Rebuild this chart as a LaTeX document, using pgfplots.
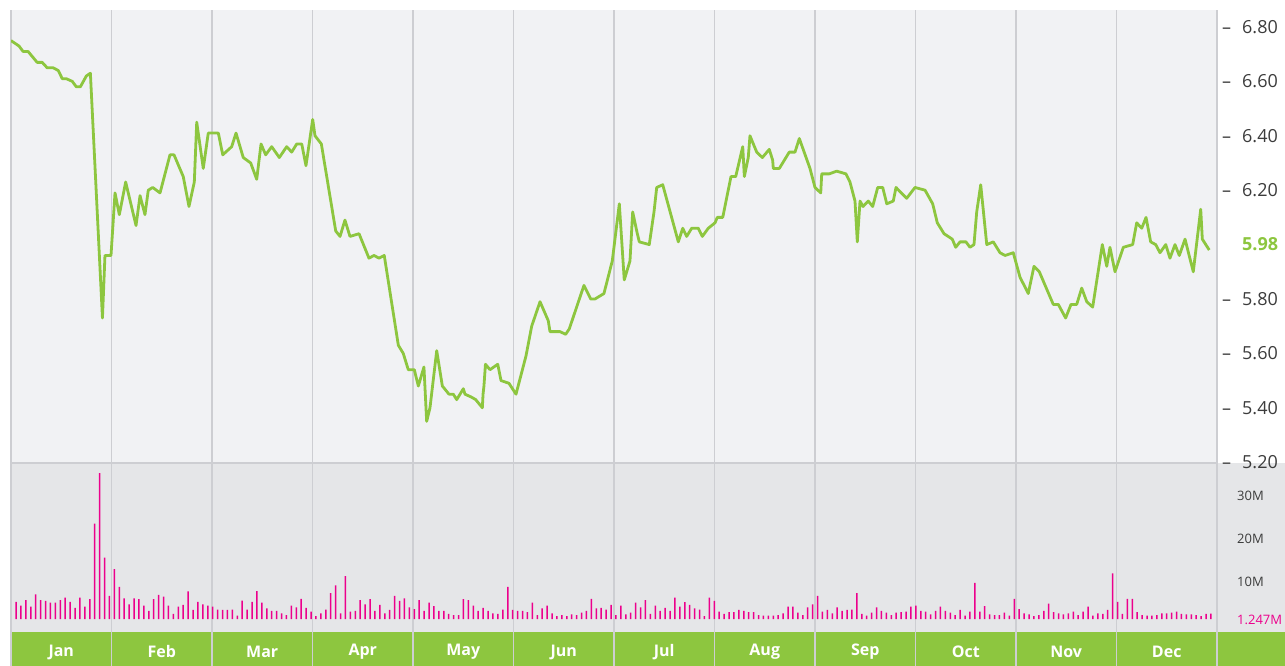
\documentclass[border=0pt]{standalone}
\usepackage{pgfplots}
\pgfplotsset{compat=1.18}
\usepackage{pgfplotstable}
\usepackage{fontspec}
\setmainfont{Open Sans}
\definecolor{lgreen}{HTML}{8DC63F}
\definecolor{mag}{HTML}{EC008C}
\definecolor{bgtop}{HTML}{F1F2F4}
\definecolor{bgvol}{HTML}{E5E6E8}
\definecolor{gridc}{HTML}{CDCED2}
\definecolor{labc}{HTML}{3C3C3C}

\pgfplotstableread[row sep=\\]{
v\\
4.0\\3.1\\4.4\\2.9\\5.7\\4.4\\4.2\\3.8\\3.8\\4.4\\
5.0\\4.0\\2.6\\5.0\\2.9\\4.6\\22.2\\33.9\\14.3\\5.4\\
11.6\\7.5\\4.8\\3.4\\4.8\\4.6\\3.1\\1.9\\4.6\\5.6\\
5.2\\3.1\\1.2\\2.9\\3.3\\6.4\\2.1\\4.0\\3.4\\3.1\\
2.9\\2.2\\2.1\\2.1\\2.2\\0.8\\4.3\\2.2\\4.0\\6.5\\
3.8\\2.5\\1.9\\1.9\\1.3\\0.9\\3.1\\2.7\\4.7\\2.6\\
1.7\\0.7\\1.3\\2.2\\6.0\\7.8\\1.3\\10.0\\1.7\\1.9\\
4.4\\3.4\\4.6\\1.9\\3.3\\1.3\\2.1\\5.4\\4.2\\4.8\\
2.7\\2.3\\4.4\\1.9\\3.8\\
3.0\\1.9\\1.9\\1.2\\0.9\\0.9\\4.6\\4.4\\3.1\\1.9\\
2.6\\1.9\\1.3\\1.2\\2.2\\7.5\\2.1\\1.9\\1.9\\1.6\\
3.8\\0.9\\2.5\\3.1\\1.3\\0.7\\0.9\\0.7\\1.1\\0.9\\
1.5\\1.9\\4.7\\2.5\\2.6\\2.2\\3.3\\0.9\\3.1\\1.1\\
1.5\\3.8\\2.7\\4.4\\1.2\\3.1\\1.9\\2.6\\1.9\\5.0\\
2.9\\3.9\\3.3\\2.5\\2.2\\0.7\\5.0\\4.2\\1.7\\1.2\\
1.6\\1.6\\2.1\\1.9\\1.6\\1.6\\0.9\\0.8\\0.8\\0.8\\
0.9\\1.3\\2.9\\2.9\\1.5\\0.9\\2.7\\3.4\\5.4\\1.7\\
2.1\\1.3\\2.7\\1.9\\2.1\\
2.2\\6.0\\1.2\\0.8\\1.5\\2.7\\1.9\\1.5\\0.9\\1.5\\
1.6\\1.7\\2.9\\3.1\\1.9\\1.7\\1.1\\1.9\\2.9\\1.9\\
1.5\\0.9\\2.1\\0.8\\1.7\\8.4\\1.7\\3.0\\1.1\\0.9\\
0.9\\1.5\\0.8\\4.7\\2.3\\1.3\\1.1\\0.7\\0.9\\1.9\\
3.6\\1.6\\1.3\\1.1\\1.3\\1.7\\0.9\\1.7\\2.9\\0.8\\
1.3\\1.2\\2.1\\10.6\\4.0\\1.2\\4.7\\4.7\\1.6\\0.9\\
0.8\\0.8\\0.9\\1.3\\1.3\\1.5\\1.7\\1.2\\1.1\\1.1\\
0.9\\0.7\\1.2\\1.247\\
}\voldata

\begin{document}
\begin{tikzpicture}[x=1pt,y=1pt]
\useasboundingbox (0,0) rectangle (1285,666);
\fill[white] (0,0) rectangle (1285,666);
\fill[bgvol] (11,34) rectangle (1285,203);
\fill[lgreen] (11,0) rectangle (1285,34);

\begin{axis}[
  at={(11pt,203pt)}, anchor=south west, scale only axis,
  width=1206pt, height=453pt,
  xmin=0, xmax=12, ymin=5.197, ymax=6.8625,
  axis background/.style={fill=bgtop},
  axis line style={draw=none},
  xtick={0,1,...,12}, xticklabels={},
  xmajorgrids, grid style={gridc, line width=1.3pt},
  ytick={5.2,5.4,5.6,5.8,6.2,6.4,6.6,6.8},
  yticklabels={\textendash\hspace{11pt}5.20,\textendash\hspace{11pt}5.40,\textendash\hspace{11pt}5.60,\textendash\hspace{11pt}5.80,\textendash\hspace{11pt}6.20,\textendash\hspace{11pt}6.40,\textendash\hspace{11pt}6.60,\textendash\hspace{11pt}6.80},
  ytick pos=right, yticklabel pos=right,
  major tick length=0pt,
  yticklabel style={anchor=west, inner sep=0pt, xshift=5pt, font=\fontsize{18}{21}\selectfont, text=labc},
  extra y ticks={6.0}, extra y tick labels={\textbf{5.98}},
  extra y tick style={yticklabel style={text=lgreen, xshift=20pt}},
  after end axis/.code={\draw[gridc, line width=1.3pt] (rel axis cs:0,0) -- (rel axis cs:1,0);},
]
\addplot[lgreen, line width=2.8pt, line join=round] coordinates {
(0.00,6.75)(0.08,6.73)(0.12,6.71)(0.17,6.71)(0.26,6.67)(0.31,6.67)(0.36,6.65)(0.42,6.65)
(0.47,6.64)(0.51,6.61)(0.55,6.61)(0.61,6.60)(0.65,6.58)(0.69,6.58)(0.75,6.62)(0.79,6.63)
(0.91,5.73)(0.935,5.96)(0.995,5.96)(1.035,6.19)(1.078,6.11)(1.141,6.23)(1.244,6.07)
(1.284,6.18)(1.333,6.11)(1.366,6.20)(1.410,6.21)(1.483,6.19)(1.582,6.33)(1.622,6.33)
(1.714,6.25)(1.771,6.14)(1.824,6.23)(1.848,6.45)(1.913,6.28)(1.963,6.41)(2.013,6.41)
(2.063,6.41)(2.107,6.33)(2.196,6.36)(2.239,6.41)(2.311,6.32)(2.385,6.30)(2.445,6.24)
(2.488,6.37)(2.534,6.33)(2.594,6.36)(2.670,6.32)(2.743,6.36)(2.793,6.34)(2.843,6.37)
(2.893,6.37)(2.935,6.29)(3.002,6.46)(3.025,6.40)(3.088,6.37)(3.231,6.05)(3.274,6.03)
(3.323,6.09)(3.373,6.03)(3.463,6.04)(3.562,5.95)(3.612,5.96)(3.662,5.95)(3.714,5.96)
(3.854,5.63)(3.903,5.60)(3.953,5.54)(4.013,5.54)(4.053,5.48)(4.109,5.55)(4.136,5.35)
(4.169,5.40)(4.236,5.61)(4.292,5.48)(4.358,5.45)(4.401,5.45)(4.435,5.43)(4.501,5.47)
(4.517,5.45)(4.577,5.44)(4.624,5.43)(4.690,5.40)(4.697,5.45)(4.706,5.48)(4.721,5.56)
(4.766,5.54)(4.843,5.56)(4.876,5.50)(4.955,5.49)(5.025,5.45)(5.124,5.59)(5.181,5.70)
(5.264,5.79)(5.346,5.72)(5.363,5.68)(5.463,5.68)(5.519,5.67)(5.555,5.69)(5.701,5.85)
(5.768,5.80)(5.811,5.80)(5.900,5.82)(5.983,5.94)(6.053,6.15)(6.102,5.87)(6.159,5.94)
(6.186,6.12)(6.232,6.04)(6.252,6.01)(6.351,6.00)(6.398,6.12)(6.425,6.21)(6.485,6.22)
(6.640,6.01)(6.684,6.06)(6.723,6.03)(6.773,6.06)(6.839,6.06)(6.879,6.03)(6.938,6.06)
(7.005,6.08)(7.028,6.10)(7.082,6.10)(7.164,6.25)(7.211,6.25)(7.281,6.36)(7.297,6.25)
(7.336,6.32)(7.353,6.40)(7.420,6.34)(7.476,6.32)(7.545,6.35)(7.579,6.31)(7.585,6.28)
(7.645,6.28)(7.744,6.34)(7.801,6.34)(7.844,6.39)(7.950,6.28)(8.000,6.21)(8.057,6.19)
(8.067,6.26)(8.142,6.26)(8.216,6.27)(8.308,6.26)(8.348,6.23)(8.398,6.16)(8.421,6.01)
(8.448,6.16)(8.478,6.14)(8.530,6.16)(8.574,6.14)(8.624,6.21)(8.674,6.21)(8.714,6.15)
(8.779,6.16)(8.806,6.21)(8.912,6.17)(8.995,6.21)(9.095,6.20)(9.171,6.15)(9.217,6.08)
(9.284,6.04)(9.366,6.02)(9.400,5.99)(9.443,6.01)(9.502,6.01)(9.542,5.99)(9.582,6.00)
(9.609,6.12)(9.649,6.22)(9.709,6.00)(9.774,6.01)(9.841,5.97)(9.891,5.96)(9.973,5.97)
(10.040,5.88)(10.122,5.82)(10.179,5.92)(10.232,5.90)(10.371,5.78)(10.421,5.78)
(10.494,5.73)(10.547,5.78)(10.604,5.78)(10.654,5.84)(10.704,5.79)(10.763,5.77)
(10.859,6.00)(10.903,5.92)(10.935,5.99)(10.985,5.90)(11.068,5.99)(11.161,6.00)
(11.201,6.08)(11.251,6.06)(11.294,6.10)(11.340,6.01)(11.390,6.00)(11.433,5.97)
(11.490,6.00)(11.532,5.95)(11.582,6.00)(11.625,5.96)(11.682,6.02)(11.764,5.90)
(11.838,6.13)(11.854,6.02)(11.923,5.98)
};
\end{axis}

\begin{axis}[
  at={(11pt,34pt)}, anchor=south west, scale only axis,
  width=1206pt, height=169pt,
  xmin=0, xmax=12, ymin=-3.02, ymax=36.28,
  axis line style={draw=none},
  ybar, bar width=1.5pt,
  xtick={0.5,1.5,...,11.5},
  xticklabels={Jan,Feb,Mar,Apr,May,Jun,Jul,Aug,Sep,Oct,Nov,Dec},
  minor xtick={0,1,...,12},
  xminorgrids, minor grid style={gridc, line width=1.3pt},
  xtick pos=bottom, tick align=outside,
  major tick length=0pt, minor tick length=34pt,
  every minor tick/.append style={gridc, line width=1.3pt},
  xticklabel style={anchor=center, yshift=-20pt, font=\bfseries\fontsize{16}{19}\selectfont, text=white},
  ytick={10,20,30}, yticklabels={10M,20M,30M},
  ytick pos=right, yticklabel pos=right,
  yticklabel style={anchor=west, inner sep=0pt, xshift=20pt, yshift=-6pt, font=\fontsize{13}{15}\selectfont, text=labc},
  extra y ticks={1.247}, extra y tick labels={1.247M},
  extra y tick style={yticklabel style={text=mag}},
]
\addplot[fill=mag, draw=none] table[x expr=\coordindex*0.04893+0.0498, y index=0] {\voldata};
\end{axis}
\end{tikzpicture}
\end{document}
